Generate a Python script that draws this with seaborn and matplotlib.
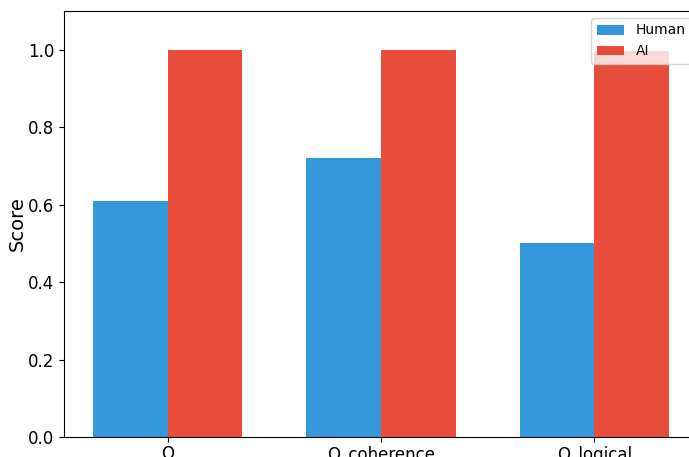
import matplotlib
matplotlib.use("Agg")
import matplotlib.pyplot as plt
import seaborn as sns
import pandas as pd

categories = ["O", "O_coherence", "O_logical"]
human_scores = [0.61, 0.72, 0.50]
ai_scores = [0.999, 1.0, 0.997]
series_names = ["Human", "AI"]
colors = ["#3498db", "#e74c3c"]

df = pd.DataFrame({
    "Metric": categories * 2,
    "Score": human_scores + ai_scores,
    "Group": [series_names[0]] * 3 + [series_names[1]] * 3,
})

fig = plt.figure(figsize=(6.89, 4.57), dpi=100)
ax = fig.add_axes([64 / 689, 20 / 457, 634 / 689, 426 / 457])
sns.barplot(data=df, x="Metric", y="Score", hue="Group", hue_order=series_names,
            palette=colors, width=0.7, saturation=1, ax=ax, errorbar=None)
ax.set_xlim(-0.485, 2.485)
ax.set_ylim(0, 1.1)
ax.set_xlabel("")
ax.set_ylabel("Score", fontsize=14, labelpad=1)
ax.tick_params(axis="both", labelsize=12)
ax.tick_params(axis="x", pad=2.5)
ax.legend(loc="upper right", fontsize=10)
fig.savefig("out.png", dpi=100)
